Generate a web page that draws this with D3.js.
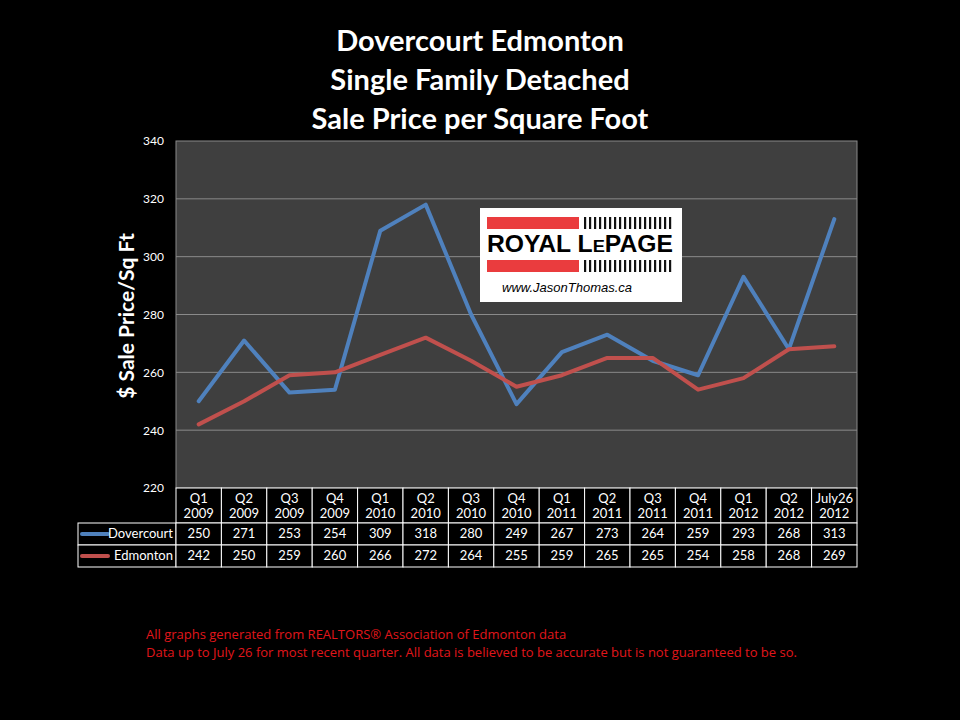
<html>
  <script src="https://d3js.org/d3.v7.min.js"></script>
  <style>
    body,
    html {
      margin: 0;
      padding: 0;
      background: black;
    }
    text {
      font-family: Lato, "Open Sans", sans-serif;
    }
  </style>
  <body>
    <svg id="chart" width="960" height="720"></svg>
    <script>
      const quarters = ["Q1", "Q2", "Q3", "Q4", "Q1", "Q2", "Q3", "Q4", "Q1", "Q2", "Q3", "Q4", "Q1", "Q2", "July26"];
      const years = ["2009", "2009", "2009", "2009", "2010", "2010", "2010", "2010", "2011", "2011", "2011", "2011", "2012", "2012", "2012"];
      const dovercourt = [250, 271, 253, 254, 309, 318, 280, 249, 267, 273, 264, 259, 293, 268, 313];
      const edmonton = [242, 250, 259, 260, 266, 272, 264, 255, 259, 265, 265, 254, 258, 268, 269];
      const yTicks = [220, 240, 260, 280, 300, 320, 340];
      const titleLines = ["Dovercourt Edmonton", "Single Family Detached", "Sale Price per Square Foot"];
      const footerLines = [
        "All graphs generated from REALTORS® Association of Edmonton data",
        "Data up to July 26  for most recent quarter. All data is believed to be accurate but is not guaranteed to be so.",
      ];

      const series = [
        { name: "Dovercourt", values: dovercourt, color: "#4f81bd" },
        { name: "Edmonton", values: edmonton, color: "#c0504d" },
      ];

      const svg = d3.select("#chart");
      const plotLeft = 176, plotRight = 857, plotTop = 141, plotBottom = 488;
      const idx = d3.range(quarters.length);

      const x = d3.scaleBand().domain(idx).range([plotLeft, plotRight]);
      const y = d3.scaleLinear().domain([220, 340]).range([plotBottom, plotTop]);
      const cx = (i) => x(i) + x.bandwidth() / 2;

      // title
      svg
        .selectAll(".title")
        .data(titleLines)
        .enter()
        .append("text")
        .attr("x", 480)
        .attr("y", (d, i) => 51 + i * 39)
        .attr("text-anchor", "middle")
        .attr("fill", "white")
        .style("font-size", "29px")
        .style("font-weight", "bold")
        .text((d) => d);

      // plot area
      svg
        .append("rect")
        .attr("x", plotLeft)
        .attr("y", plotTop)
        .attr("width", plotRight - plotLeft)
        .attr("height", plotBottom - plotTop)
        .attr("fill", "#3f3f3f")
        .attr("stroke", "#8a8a8a")
        .attr("stroke-width", 1);

      // gridlines
      svg
        .append("g")
        .selectAll("line")
        .data(yTicks.slice(1, -1))
        .enter()
        .append("line")
        .attr("x1", plotLeft)
        .attr("x2", plotRight)
        .attr("y1", (d) => y(d))
        .attr("y2", (d) => y(d))
        .attr("stroke", "#8a8a8a")
        .attr("stroke-width", 1);

      // y axis labels
      const yAxis = svg
        .append("g")
        .attr("transform", `translate(${plotLeft - 12},0)`)
        .call(d3.axisLeft(y).tickValues(yTicks).tickSize(0).tickPadding(0));
      yAxis.select(".domain").remove();
      yAxis
        .selectAll("text")
        .attr("fill", "white")
        .style("font-size", "12px")
        .style("font-family", "Lato, sans-serif");

      svg
        .append("text")
        .attr("transform", "translate(134,316) rotate(-90)")
        .attr("text-anchor", "middle")
        .attr("fill", "white")
        .style("font-size", "21px")
        .style("font-weight", "bold")
        .text("$ Sale Price/Sq Ft");

      // logo
      const logo = svg.append("g");
      logo.append("rect").attr("x", 480).attr("y", 208).attr("width", 202).attr("height", 94).attr("fill", "white");
      [217, 260].forEach((yy) => {
        logo.append("rect").attr("x", 487).attr("y", yy).attr("width", 92).attr("height", 12).attr("fill", "#ea3c3e");
        logo
          .append("g")
          .selectAll("rect")
          .data(d3.range(18))
          .enter()
          .append("rect")
          .attr("x", (d) => 584 + d * 5)
          .attr("y", yy)
          .attr("width", 2.2)
          .attr("height", 12)
          .attr("fill", "#111");
      });
      const brand = logo
        .append("text")
        .attr("x", 580)
        .attr("y", 252)
        .attr("text-anchor", "middle")
        .attr("fill", "black")
        .style("font-family", "'Liberation Sans', Arial, sans-serif")
        .style("font-weight", "bold")
        .style("font-size", "23px")
        .attr("textLength", 186)
        .attr("lengthAdjust", "spacingAndGlyphs");
      brand.append("tspan").text("ROYAL L");
      brand.append("tspan").style("font-size", "17px").text("E");
      brand.append("tspan").text("PAGE");
      logo
        .append("text")
        .attr("x", 502)
        .attr("y", 292)
        .attr("fill", "black")
        .style("font-family", "'Liberation Sans', Arial, sans-serif")
        .style("font-style", "italic")
        .style("font-size", "13px")
        .text("www.JasonThomas.ca");

      // lines
      const line = d3
        .line()
        .x((d, i) => cx(i))
        .y((d) => y(d));
      series.forEach((s) => {
        svg
          .append("path")
          .datum(s.values)
          .attr("d", line)
          .attr("fill", "none")
          .attr("stroke", s.color)
          .attr("stroke-width", 4)
          .attr("stroke-linejoin", "round")
          .attr("stroke-linecap", "round");
      });

      // data table
      const tableLeft = 78;
      const headerBottom = 523;
      const rowH = 22;
      const table = svg.append("g");
      const cellStroke = "white";
      const cellFont = "13px";

      // header cells
      idx.forEach((i) => {
        table
          .append("rect")
          .attr("x", x(i))
          .attr("y", plotBottom)
          .attr("width", x.bandwidth())
          .attr("height", headerBottom - plotBottom)
          .attr("fill", "black")
          .attr("stroke", cellStroke);
        table
          .append("text")
          .attr("x", cx(i))
          .attr("y", plotBottom + 15)
          .attr("text-anchor", "middle")
          .attr("fill", "white")
          .style("font-size", cellFont)
          .text(quarters[i]);
        table
          .append("text")
          .attr("x", cx(i))
          .attr("y", plotBottom + 30)
          .attr("text-anchor", "middle")
          .attr("fill", "white")
          .style("font-size", cellFont)
          .text(years[i]);
      });

      series.forEach((s, r) => {
        const ry = headerBottom + r * rowH;
        table
          .append("rect")
          .attr("x", tableLeft)
          .attr("y", ry)
          .attr("width", plotLeft - tableLeft)
          .attr("height", rowH)
          .attr("fill", "black")
          .attr("stroke", cellStroke);
        table
          .append("line")
          .attr("x1", tableLeft + 4)
          .attr("x2", tableLeft + 30)
          .attr("y1", ry + rowH / 2)
          .attr("y2", ry + rowH / 2)
          .attr("stroke", s.color)
          .attr("stroke-width", 4)
          .attr("stroke-linecap", "round");
        table
          .append("text")
          .attr("x", plotLeft - 3)
          .attr("y", ry + 15)
          .attr("text-anchor", "end")
          .attr("fill", "white")
          .style("font-size", cellFont)
          .text(s.name);
        s.values.forEach((v, i) => {
          table
            .append("rect")
            .attr("x", x(i))
            .attr("y", ry)
            .attr("width", x.bandwidth())
            .attr("height", rowH)
            .attr("fill", "black")
            .attr("stroke", cellStroke);
          table
            .append("text")
            .attr("x", cx(i))
            .attr("y", ry + 15)
            .attr("text-anchor", "middle")
            .attr("fill", "white")
            .style("font-size", cellFont)
            .text(v);
        });
      });

      // footer
      svg
        .selectAll(".footer")
        .data(footerLines)
        .enter()
        .append("text")
        .attr("x", 146)
        .attr("y", (d, i) => 639 + i * 18)
        .attr("fill", "#e0161b")
        .style("font-size", "13px")
        .style("font-family", "'Liberation Sans Narrow', 'Open Sans', sans-serif")
        .text((d) => d);
    </script>
  </body>
</html>
